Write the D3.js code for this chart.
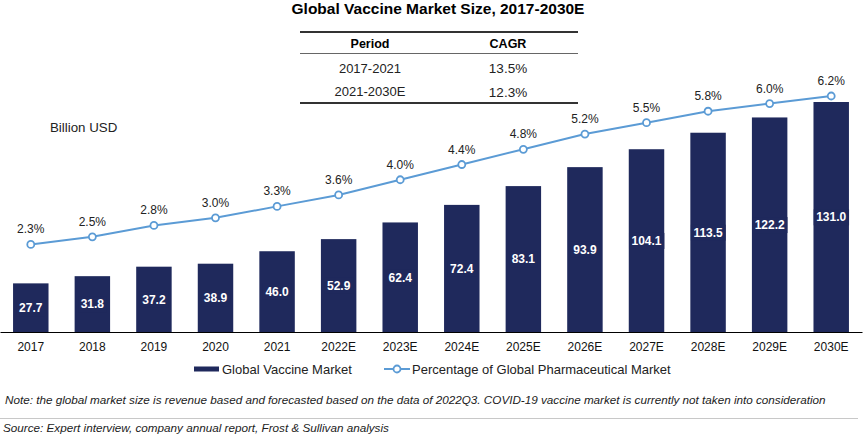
<!DOCTYPE html>
<html>
<head>
<meta charset="utf-8">
<script src="https://cdn.jsdelivr.net/npm/d3@7"></script>
<style>
  body { margin: 0; background: #fff; }
  svg { font-family: "Liberation Sans", Arial, sans-serif; display: block; }
</style>
</head>
<body>
<div id="chart"></div>
<script>
const years = ["2017","2018","2019","2020","2021","2022E","2023E","2024E","2025E","2026E","2027E","2028E","2029E","2030E"];
const marketSize = [27.7, 31.8, 37.2, 38.9, 46.0, 52.9, 62.4, 72.4, 83.1, 93.9, 104.1, 113.5, 122.2, 131.0];
const pharmaShare = [2.3, 2.5, 2.8, 3.0, 3.3, 3.6, 4.0, 4.4, 4.8, 5.2, 5.5, 5.8, 6.0, 6.2];
const periods = ["2017-2021", "2021-2030E"];
const cagr = ["13.5%", "12.3%"];

const width = 864, height = 440;
const navy = "#1f295c", blue = "#5b9bd5";
const base = 332;

const svg = d3.select("#chart")
  .append("svg")
    .attr("width", width)
    .attr("height", height);

// title
svg.append("text")
  .attr("x", 438).attr("y", 14)
  .attr("text-anchor", "middle")
  .style("font-size", "15.5px")
  .style("font-weight", "bold")
  .text("Global Vaccine Market Size, 2017-2030E");

// CAGR table
svg.append("line").attr("x1", 300).attr("x2", 578).attr("y1", 32).attr("y2", 32)
  .attr("stroke", "#333").attr("stroke-width", 2);
svg.append("line").attr("x1", 300).attr("x2", 578).attr("y1", 53.5).attr("y2", 53.5)
  .attr("stroke", "#666").attr("stroke-width", 1);
svg.append("line").attr("x1", 300).attr("x2", 578).attr("y1", 103).attr("y2", 103)
  .attr("stroke", "#333").attr("stroke-width", 2);
svg.append("text").attr("x", 370).attr("y", 48).attr("text-anchor", "middle")
  .style("font-size", "12.5px").style("font-weight", "bold").text("Period");
svg.append("text").attr("x", 508).attr("y", 48).attr("text-anchor", "middle")
  .style("font-size", "12.5px").style("font-weight", "bold").text("CAGR");
periods.forEach((p, i) => {
  svg.append("text").attr("x", 370).attr("y", 72.5 + i * 23.5).attr("text-anchor", "middle")
    .style("font-size", "13px").attr("fill", "#222").text(p);
  svg.append("text").attr("x", 508).attr("y", 73 + i * 23.5).attr("text-anchor", "middle")
    .style("font-size", "13.5px").attr("fill", "#222").text(cagr[i]);
});

svg.append("text")
  .attr("x", 50).attr("y", 131.5)
  .style("font-size", "13.3px")
  .attr("fill", "#222")
  .text("Billion USD");

// scales
const x = d3.scaleBand()
  .domain(years)
  .range([0, 862])
  .paddingInner(0.424)
  .paddingOuter(0.212);

const y = d3.scaleLinear()
  .domain([0, 131])
  .range([base, base - 230]);

const y2 = d3.scaleLinear()
  .domain([0, 6.2])
  .range([base, 96]);

// bars
svg.selectAll("rect.bar")
  .data(marketSize)
  .join("rect")
    .attr("class", "bar")
    .attr("x", (d, i) => x(years[i]))
    .attr("y", d => y(d))
    .attr("width", x.bandwidth())
    .attr("height", d => base - y(d))
    .attr("fill", navy);

// bar labels with backing box
const lbl = svg.selectAll("g.blabel")
  .data(marketSize)
  .join("g")
    .attr("class", "blabel")
    .attr("transform", (d, i) => `translate(${x(years[i]) + x.bandwidth() / 2},${(y(d) + base) / 2})`);
lbl.append("text")
  .attr("text-anchor", "middle")
  .attr("dy", "0.36em")
  .attr("fill", "#fff")
  .style("font-size", "12px")
  .style("font-weight", "bold")
  .text(d => d.toFixed(1));
lbl.each(function() {
  const g = d3.select(this);
  const bb = g.select("text").node().getBBox();
  g.insert("rect", "text")
    .attr("x", bb.x - 2.5).attr("y", bb.y - 1)
    .attr("width", bb.width + 5).attr("height", bb.height + 2)
    .attr("fill", navy);
});

// x axis
const xAxis = svg.append("g")
  .attr("transform", `translate(0,${base})`)
  .call(d3.axisBottom(x).tickSize(0).tickPadding(10).tickSizeOuter(0));
xAxis.select(".domain").attr("stroke", "#000").attr("stroke-width", 1.2);
xAxis.selectAll("text")
  .style("font-size", "12px")
  .style("font-family", "\"Liberation Sans\", Arial, sans-serif")
  .attr("fill", "#111");

// percentage line
const line = d3.line()
  .x((d, i) => x(years[i]) + x.bandwidth() / 2)
  .y(d => y2(d));

svg.append("path")
  .datum(pharmaShare)
  .attr("d", line)
  .attr("fill", "none")
  .attr("stroke", blue)
  .attr("stroke-width", 2);

svg.selectAll("circle.pt")
  .data(pharmaShare)
  .join("circle")
    .attr("class", "pt")
    .attr("cx", (d, i) => x(years[i]) + x.bandwidth() / 2)
    .attr("cy", d => y2(d))
    .attr("r", 3.5)
    .attr("fill", "#fff")
    .attr("stroke", blue)
    .attr("stroke-width", 1.8);

svg.selectAll("text.pct")
  .data(pharmaShare)
  .join("text")
    .attr("class", "pct")
    .attr("x", (d, i) => x(years[i]) + x.bandwidth() / 2)
    .attr("y", d => y2(d) - 11)
    .attr("text-anchor", "middle")
    .attr("fill", "#222")
    .style("font-size", "12px")
    .text(d => d.toFixed(1) + "%");

// legend
const leg = svg.append("g").attr("transform", "translate(0,369)");
leg.append("rect").attr("x", 194).attr("y", -2.5).attr("width", 25).attr("height", 5).attr("fill", navy);
leg.append("text").attr("x", 222).attr("y", 4.5).style("font-size", "13px").attr("fill", "#222")
  .text("Global Vaccine Market");
leg.append("line").attr("x1", 384).attr("x2", 410).attr("y1", 0).attr("y2", 0)
  .attr("stroke", blue).attr("stroke-width", 2);
leg.append("circle").attr("cx", 397).attr("cy", 0).attr("r", 3.5)
  .attr("fill", "#fff").attr("stroke", blue).attr("stroke-width", 1.8);
leg.append("text").attr("x", 412).attr("y", 4.5).style("font-size", "13px").attr("fill", "#222")
  .text("Percentage of Global Pharmaceutical Market");

// footnotes
svg.append("text")
  .attr("x", 5).attr("y", 404)
  .style("font-size", "11.7px")
  .style("font-style", "italic")
  .attr("fill", "#222")
  .text("Note: the global market size is revenue based and forecasted based on the data of 2022Q3. COVID-19 vaccine market is currently not taken into consideration");

svg.append("line")
  .attr("x1", 0).attr("x2", 858).attr("y1", 418.5).attr("y2", 418.5)
  .attr("stroke", "#c8c8c8").attr("stroke-width", 1);

svg.append("text")
  .attr("x", 3).attr("y", 432)
  .style("font-size", "11.7px")
  .style("font-style", "italic")
  .attr("fill", "#222")
  .text("Source: Expert interview,  company annual report, Frost & Sullivan analysis");
</script>
</body>
</html>
